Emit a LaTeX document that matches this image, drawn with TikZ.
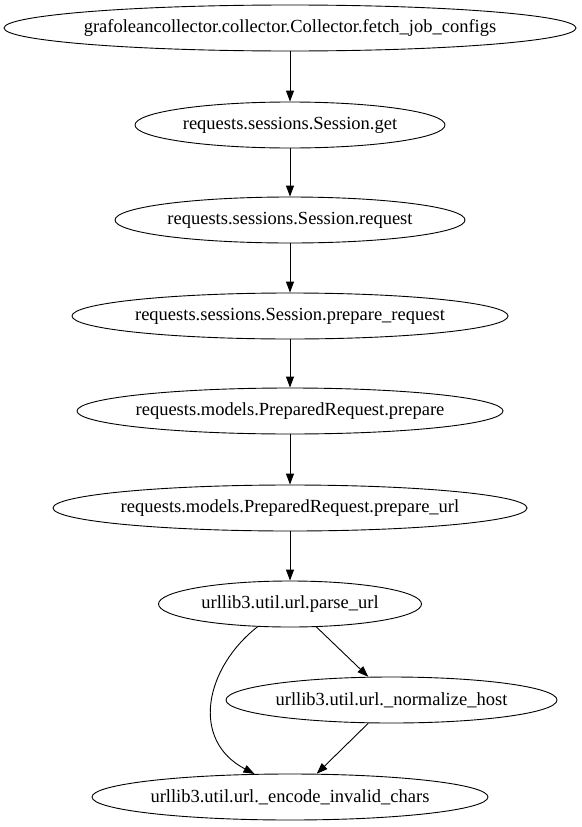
\documentclass[tikz,border=0pt]{standalone}
\usepackage{fontspec}
\setmainfont{Liberation Serif}
\usetikzlibrary{shapes.geometric,arrows.meta}
\begin{document}
\begin{tikzpicture}[x=1pt,y=-1pt,
  fn/.style={draw,ellipse,line width=0.9pt,inner ysep=0pt,inner xsep=-30pt,minimum height=46pt,font=\fontsize{18.5pt}{21pt}\selectfont},
  arr/.style={line width=0.9pt,-{Triangle[length=11pt,width=8pt]}}]
\useasboundingbox (0,0) rectangle (581,827);
\node[fn,minimum width=572pt] (n1) at (290,28) {grafoleancollector.collector.Collector.fetch\_job\_configs};
\node[fn,minimum width=310pt] (n2) at (290,125) {requests.sessions.Session.get};
\node[fn,minimum width=350pt] (n3) at (290,220) {requests.sessions.Session.request};
\node[fn,minimum width=436pt] (n4) at (290,316) {requests.sessions.Session.prepare\_request};
\node[fn,minimum width=426pt] (n5) at (290,411) {requests.models.PreparedRequest.prepare};
\node[fn,minimum width=474pt] (n6) at (290,508) {requests.models.PreparedRequest.prepare\_url};
\node[fn,minimum width=263pt] (n7) at (290,604) {urllib3.util.url.parse\_url};
\node[fn,minimum width=331pt] (n8) at (391.5,700) {urllib3.util.url.\_normalize\_host};
\node[fn,minimum width=396pt] (n9) at (290,797) {urllib3.util.url.\_encode\_invalid\_chars};
\draw[arr] (n1) -- (n2);
\draw[arr] (n2) -- (n3);
\draw[arr] (n3) -- (n4);
\draw[arr] (n4) -- (n5);
\draw[arr] (n5) -- (n6);
\draw[arr] (n6) -- (n7);
\draw[arr] (n7.-41) -- (n8.135);
\draw[arr] (n8.225) -- (n9.41);
\draw[arr] (n7.215) .. controls (205,668) and (190,740) .. (n9.147);
\end{tikzpicture}
\end{document}
